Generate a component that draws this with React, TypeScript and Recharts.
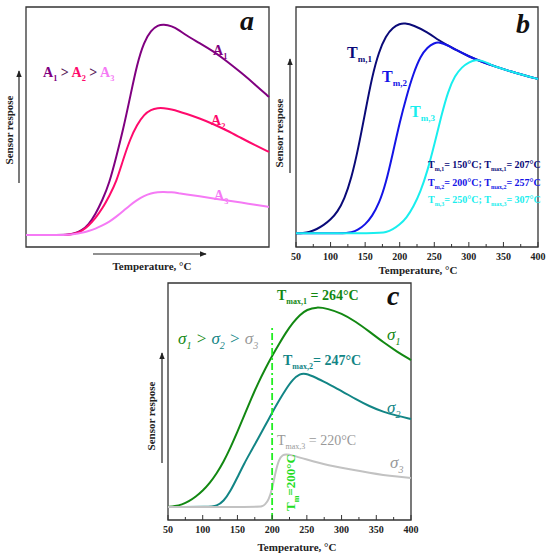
import React from 'react';
import { LineChart, Line, XAxis, YAxis, ReferenceArea, ReferenceLine } from 'recharts';

// panel a (arbitrary temperature scale, no ticks)
const aTemp = [50, 100, 110, 120, 130, 140, 150, 160, 170, 180, 190, 200, 210, 220, 230, 240, 248, 260, 270, 280, 300, 320, 340, 360, 380, 400];
const a1 = [5, 5, 5.1, 5.6, 6.8, 9.2, 13.6, 19.5, 26.5, 37.5, 49, 62.5, 76.3, 85.5, 90.3, 92.4, 92.8, 92.1, 90.5, 88.3, 85, 81.5, 77.3, 72.6, 67.7, 62.5];
const a2 = [5, 5, 5.1, 5.5, 6.5, 8.8, 12, 16, 21.3, 27, 36.5, 45, 51, 55.2, 57.3, 57.9, 57.9, 57.3, 56.5, 55.6, 53.6, 51.2, 48.5, 45.4, 42.4, 39.6];
const a3 = [5, 5, 5.1, 5.4, 5.9, 6.6, 7.6, 9, 10.5, 12.6, 15, 17.5, 19.6, 21.3, 22.4, 22.9, 23, 22.8, 22.4, 22, 21.1, 20.2, 19.4, 18.5, 17.6, 16.7];

// panel b
const tm1Temp = [50, 60, 70, 80, 90, 100, 110, 120, 130, 140, 150, 160, 170, 180, 190, 200, 207, 220, 240, 257, 270, 280, 300, 320, 340, 360, 380, 400];
const tm1 = [5.7, 5.8, 6.3, 7.4, 9.1, 11.4, 14.6, 20, 28.5, 41, 56, 71, 81.5, 88, 91.5, 93, 93.3, 92.4, 89.5, 86, 84, 82.3, 79.4, 77, 75, 73.2, 71.5, 70];
const tm2Temp = [50, 120, 130, 140, 150, 160, 170, 180, 190, 200, 210, 220, 230, 240, 250, 257, 270, 280, 300, 320, 340, 360, 380, 400];
const tm2 = [5.7, 5.7, 6, 7.2, 9.3, 12.8, 18, 26.5, 39, 52, 63, 72.5, 79.5, 83.3, 85, 85.4, 84, 82.3, 79.4, 77, 75, 73.2, 71.5, 70];
const tm3Temp = [50, 170, 180, 190, 200, 210, 220, 230, 240, 250, 260, 270, 280, 290, 300, 310, 320, 330, 340, 360, 380, 400];
const tm3 = [5.7, 5.7, 6.1, 7.3, 9.3, 12.2, 16.8, 23, 31.5, 42.5, 54.5, 65, 71.5, 75, 77, 78, 77.6, 76.2, 75, 73.2, 71.5, 70];

// panel c
const s1Temp = [50, 60, 70, 80, 90, 100, 110, 120, 130, 140, 150, 160, 170, 180, 190, 200, 210, 220, 230, 240, 250, 264, 280, 300, 320, 340, 360, 380, 400];
const s1 = [5.5, 5.8, 6.5, 7.8, 9.8, 12.3, 15.5, 19.6, 24.5, 30.5, 37.2, 44.2, 51.3, 57.9, 63.8, 69.3, 74.3, 79.2, 83.3, 86.6, 88.8, 89.9, 89.2, 87.2, 83.8, 79.5, 75, 71, 67.5];
const s2Temp = [50, 110, 120, 130, 140, 150, 160, 170, 180, 190, 200, 210, 220, 230, 240, 247, 264, 280, 300, 320, 340, 360, 380, 400];
const s2 = [5.5, 5.5, 5.9, 7.8, 12.2, 18, 24, 29.2, 34.5, 39.8, 45.3, 50.5, 55.3, 59.5, 61.6, 62, 60, 57.5, 54.5, 51, 48, 45.6, 44, 42.6];
const s3Temp = [50, 180, 185, 190, 195, 200, 205, 210, 215, 220, 230, 240, 250, 260, 270, 280, 300, 320, 340, 360, 380, 400];
const s3 = [5.5, 5.5, 5.7, 6.5, 8.5, 13, 20.5, 25.8, 27.4, 27.8, 27.2, 26.3, 25.5, 24.7, 23.9, 23.2, 22, 21, 19.9, 19, 18.3, 17.7];

const tempTicks = [50, 75, 100, 125, 150, 175, 200, 225, 250, 275, 300, 325, 350, 375, 400];
const tmLineTop = 81.4;

const FONT = '"Liberation Serif", "Times New Roman", serif';
const FRAME = '#333';

const rows = (t: number[], v: number[]) => t.map((x, i) => ({ t: x, v: v[i] }));

const TempTick = ({ x, y, payload }: any) => {
  const major = payload.value % 50 === 0;
  return (
    <g>
      <line x1={x} x2={x} y1={y} y2={y - (major ? 5 : 3)} stroke={FRAME} strokeWidth={1} />
      {major && (
        <text x={x} y={y + 13} textAnchor="middle" fontSize={10} fontWeight="bold" fontFamily={FONT} fill="#222">
          {payload.value}
        </text>
      )}
    </g>
  );
};

type Part = { t: string; sub?: boolean; fill?: string };

// text with subscripts
const Rich = ({ x, y, parts, size, fill, italic, weight = 'bold', subSize }: any) => {
  const ss = subSize ?? size * 0.6;
  const shift = size * 0.28;
  let down = false;
  return (
    <text x={x} y={y} fontSize={size} fontFamily={FONT} fontWeight={weight} fontStyle={italic ? 'italic' : 'normal'} fill={fill}>
      {(parts as Part[]).map((p, i) => {
        let dy = 0;
        if (p.sub && !down) { dy = shift; down = true; }
        else if (!p.sub && down) { dy = -shift; down = false; }
        return (
          <tspan key={i} dy={dy} fontSize={p.sub ? ss : size} fill={p.fill}>
            {p.t}
          </tspan>
        );
      })}
    </text>
  );
};

const VLabel = ({ x, y }: { x: number; y: number }) => (
  <text x={x} y={y} transform={`rotate(-90 ${x} ${y})`} textAnchor="middle" dominantBaseline="middle" fontSize={11} fontWeight="bold" fontFamily={FONT} fill="#222">
    Sensor respose
  </text>
);

const HLabel = ({ x, y }: { x: number; y: number }) => (
  <text x={x} y={y} textAnchor="middle" fontSize={11} fontWeight="bold" fontFamily={FONT} fill="#222">
    Temperature, °C
  </text>
);

const Letter = ({ x, y, ch }: any) => (
  <text x={x} y={y} fontSize={28} fontWeight="bold" fontStyle="italic" fontFamily={FONT} fill="#111">
    {ch}
  </text>
);

const Overlay = () => (
  <svg width={550} height={557} style={{ position: 'absolute', left: 0, top: 0, pointerEvents: 'none' }}>
    <defs>
      <marker id="arr" viewBox="0 0 10 10" refX="9" refY="5" markerWidth="6" markerHeight="6" orient="auto">
        <path d="M0,1 L10,5 L0,9 z" fill="#222" />
      </marker>
    </defs>

    {/* panel a */}
    <Letter x={240} y={30} ch="a" />
    <VLabel x={10} y={130} />
    <line x1={19} y1={183} x2={19} y2={71} stroke="#222" strokeWidth={1.2} markerEnd="url(#arr)" />
    <line x1={93} y1={254} x2={206} y2={254} stroke="#222" strokeWidth={1.2} markerEnd="url(#arr)" />
    <HLabel x={152} y={270} />
    <Rich x={213} y={55} size={14} fill="#800080" parts={[{ t: 'A' }, { t: '1', sub: true }]} />
    <Rich x={211} y={125} size={14} fill="#ff0a6c" parts={[{ t: 'A' }, { t: '2', sub: true }]} />
    <Rich x={214} y={200} size={14} fill="#f57af5" parts={[{ t: 'A' }, { t: '3', sub: true }]} />
    <Rich
      x={43}
      y={77}
      size={14}
      fill="#800080"
      parts={[
        { t: 'A' }, { t: '1', sub: true }, { t: ' > ', fill: '#5a1a5a' },
        { t: 'A', fill: '#ff0a6c' }, { t: '2', sub: true, fill: '#ff0a6c' }, { t: ' >  ', fill: '#5a1a5a' },
        { t: 'A', fill: '#f57af5' }, { t: '3', sub: true, fill: '#f57af5' },
      ]}
    />

    {/* panel b */}
    <Letter x={516} y={33} ch="b" />
    <VLabel x={280} y={133} />
    <line x1={290} y1={173} x2={290} y2={59} stroke="#222" strokeWidth={1.2} markerEnd="url(#arr)" />
    <HLabel x={418} y={274} />
    <Rich x={347} y={58} size={16} subSize={9} fill="#0a0a78" parts={[{ t: 'T' }, { t: 'm,1', sub: true }]} />
    <Rich x={382} y={82} size={16} subSize={9} fill="#1414e6" parts={[{ t: 'T' }, { t: 'm,2', sub: true }]} />
    <Rich x={410} y={117} size={16} subSize={9} fill="#19eeee" parts={[{ t: 'T' }, { t: 'm,3', sub: true }]} />
    <Rich x={428} y={168} size={10} subSize={6} fill="#0a0a78" parts={[{ t: 'T' }, { t: 'm,1', sub: true }, { t: '= 150°C; T' }, { t: 'max,1', sub: true }, { t: '= 207°C' }]} />
    <Rich x={428} y={186} size={10} subSize={6} fill="#1414e6" parts={[{ t: 'T' }, { t: 'm,2', sub: true }, { t: '= 200°C; T' }, { t: 'max,2', sub: true }, { t: '= 257°C' }]} />
    <Rich x={428} y={203} size={10} subSize={6} fill="#19eeee" parts={[{ t: 'T' }, { t: 'm,3', sub: true }, { t: '= 250°C; T' }, { t: 'max,3', sub: true }, { t: '= 307°C' }]} />

    {/* panel c */}
    <Letter x={387} y={305} ch="c" />
    <VLabel x={152} y={416} />
    <line x1={162} y1={463} x2={162} y2={353} stroke="#222" strokeWidth={1.2} markerEnd="url(#arr)" />
    <HLabel x={297} y={551} />
    <Rich x={277} y={300} size={14} subSize={8} fill="#128812" parts={[{ t: 'T' }, { t: 'max,1', sub: true }, { t: ' = 264°C' }]} />
    <Rich x={283} y={365} size={14} subSize={8} fill="#128585" parts={[{ t: 'T' }, { t: 'max,2', sub: true }, { t: '= 247°C' }]} />
    <Rich x={277} y={445} size={14} subSize={8} weight="normal" fill="#999" parts={[{ t: 'T' }, { t: 'max,3', sub: true }, { t: ' = 220°C' }]} />
    <Rich
      x={178}
      y={344}
      size={17}
      subSize={10}
      italic
      weight="normal"
      fill="#128812"
      parts={[
        { t: 'σ' }, { t: '1', sub: true }, { t: ' > ' },
        { t: 'σ', fill: '#128585' }, { t: '2', sub: true, fill: '#128585' }, { t: ' > ', fill: '#128585' },
        { t: 'σ', fill: '#999' }, { t: '3', sub: true, fill: '#999' },
      ]}
    />
    <Rich x={387} y={340} size={17} subSize={10} italic weight="normal" fill="#128812" parts={[{ t: 'σ' }, { t: '1', sub: true }]} />
    <Rich x={387} y={413} size={17} subSize={10} italic weight="normal" fill="#128585" parts={[{ t: 'σ' }, { t: '2', sub: true }]} />
    <Rich x={390} y={468} size={17} subSize={10} italic weight="normal" fill="#999" parts={[{ t: 'σ' }, { t: '3', sub: true }]} />
    <g transform="rotate(-90 295 511)">
      <Rich x={295} y={511} size={13} subSize={8} fill="#22dd22" parts={[{ t: 'T' }, { t: 'm', sub: true }, { t: '=200°C' }]} />
    </g>
  </svg>
);

const Frame = () => (
  <ReferenceArea x1={50} x2={400} y1={0} y2={100} fill="none" fillOpacity={0} stroke={FRAME} strokeWidth={1.3} />
);

const App: React.FC = () => (
  <div style={{ position: 'absolute', left: 0, top: 0, width: 550, height: 557, background: '#fff', fontFamily: FONT }}>
    {/* a */}
    <div style={{ position: 'absolute', left: 0, top: 0 }}>
      <LineChart width={275} height={260} margin={{ top: 7, right: 6, bottom: 13, left: 26 }}>
        <XAxis dataKey="t" type="number" domain={[50, 400]} hide />
        <YAxis type="number" domain={[0, 100]} hide />
        <Line data={rows(aTemp, a1)} dataKey="v" type="basis" stroke="#800080" strokeWidth={2} dot={false} isAnimationActive={false} />
        <Line data={rows(aTemp, a2)} dataKey="v" type="basis" stroke="#ff0a6c" strokeWidth={2} dot={false} isAnimationActive={false} />
        <Line data={rows(aTemp, a3)} dataKey="v" type="basis" stroke="#f57af5" strokeWidth={2} dot={false} isAnimationActive={false} />
        {Frame()}
      </LineChart>
    </div>

    {/* b */}
    <div style={{ position: 'absolute', left: 275, top: 0 }}>
      <LineChart width={275} height={280} margin={{ top: 7, right: 12, bottom: 13, left: 21 }}>
        <XAxis dataKey="t" type="number" domain={[50, 400]} ticks={tempTicks} interval={0} height={20} axisLine={false} tickLine={false} tickSize={0} tickMargin={0} tick={<TempTick />} />
        <YAxis type="number" domain={[0, 100]} hide />
        <Line data={rows(tm1Temp, tm1)} dataKey="v" type="basis" stroke="#0a0a78" strokeWidth={2} dot={false} isAnimationActive={false} />
        <Line data={rows(tm2Temp, tm2)} dataKey="v" type="basis" stroke="#1414e6" strokeWidth={2} dot={false} isAnimationActive={false} />
        <Line data={rows(tm3Temp, tm3)} dataKey="v" type="basis" stroke="#19eeee" strokeWidth={2} dot={false} isAnimationActive={false} />
        {Frame()}
      </LineChart>
    </div>

    {/* c */}
    <div style={{ position: 'absolute', left: 140, top: 276 }}>
      <LineChart width={290} height={270} margin={{ top: 7, right: 19, bottom: 6, left: 28 }}>
        <XAxis dataKey="t" type="number" domain={[50, 400]} ticks={tempTicks} interval={0} height={20} axisLine={false} tickLine={false} tickSize={0} tickMargin={0} tick={<TempTick />} />
        <YAxis type="number" domain={[0, 100]} hide />
        <Line data={rows(s1Temp, s1)} dataKey="v" type="basis" stroke="#128812" strokeWidth={2} dot={false} isAnimationActive={false} />
        <Line data={rows(s2Temp, s2)} dataKey="v" type="basis" stroke="#128585" strokeWidth={2} dot={false} isAnimationActive={false} />
        <Line data={rows(s3Temp, s3)} dataKey="v" type="basis" stroke="#c2c2c2" strokeWidth={2} dot={false} isAnimationActive={false} />
        <ReferenceLine segment={[{ x: 200, y: 0 }, { x: 200, y: tmLineTop }]} stroke="#22ee22" strokeWidth={1.8} strokeDasharray="7 3 2 3" />
        {Frame()}
      </LineChart>
    </div>

    <Overlay />
  </div>
);

export default App;
